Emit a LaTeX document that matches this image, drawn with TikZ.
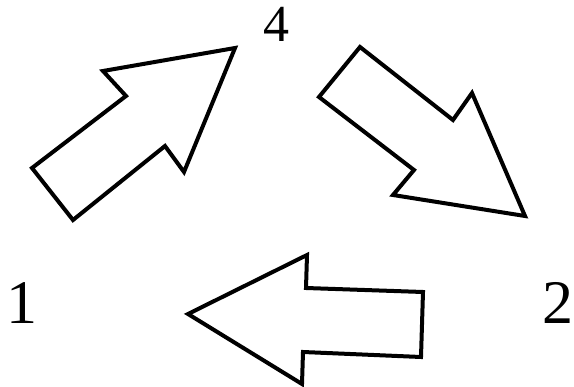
\documentclass[tikz,border=0pt]{standalone}
\usepackage{fontspec}
\setmainfont{Liberation Serif}
\begin{document}
\begin{tikzpicture}[x=1pt,y=-1pt,
  blockarrow/.style={draw=black,line width=4pt,line join=miter,fill=white},
  numlabel/.style={anchor=base,inner sep=0pt,font=\fontsize{62}{62}\selectfont},
  toplabel/.style={numlabel,font=\fontsize{52}{52}\selectfont}]
\useasboundingbox (0,0) rectangle (574,387);
% up-right arrow
\draw[blockarrow] (32,168) -- (73,220) -- (165,146) -- (184,172) -- (235,48) -- (103,71) -- (126,96) -- cycle;
% down-right arrow
\draw[blockarrow] (360,47) -- (319,97) -- (414,170) -- (393,195) -- (525,216) -- (472,93) -- (453,120) -- cycle;
% left arrow
\draw[blockarrow] (188,314) -- (307,255) -- (306,288) -- (423,292) -- (421,357) -- (303,352) -- (302,384) -- cycle;
\node[numlabel] (n1) at (22,324) {1};
\node[numlabel] (n2) at (558,324) {2};
\node[toplabel] (n4) at (276,42) {4};
\end{tikzpicture}
\end{document}
